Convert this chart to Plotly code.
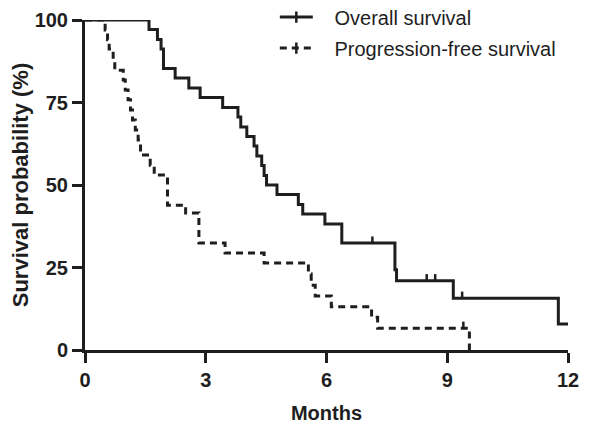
import plotly.graph_objects as go

# Overall survival (Kaplan-Meier step points: time in months, survival %)
os_time = [0, 1.59, 1.80, 1.89, 1.95, 2.24, 2.58, 2.86, 3.42, 3.80, 3.87, 4.02, 4.20, 4.27,
           4.39, 4.45, 4.51, 4.77, 5.30, 5.41, 5.96, 6.38, 7.70, 7.74, 9.15, 11.76, 12.0]
os_surv = [100, 97.1, 94.1, 91.2, 85.3, 82.4, 79.4, 76.5, 73.5, 70.6, 67.6, 64.7, 61.8, 58.8,
           55.9, 52.9, 50.0, 47.1, 44.1, 41.2, 38.2, 32.4, 24.3, 21.0, 15.7, 7.9, 7.9]
os_cens_time = [1.06, 7.14, 8.49, 8.70, 9.37]
os_cens_surv = [100, 32.4, 21.0, 21.0, 15.7]

# Progression-free survival
pfs_time = [0, 0.50, 0.56, 0.60, 0.70, 0.74, 0.95, 1.00, 1.07, 1.13, 1.18, 1.25, 1.32, 1.38,
            1.62, 1.72, 2.05, 2.50, 2.83, 3.48, 4.45, 5.55, 5.62, 5.72, 6.12, 7.12, 7.27, 9.55]
pfs_surv = [100, 97.0, 94.0, 91.2, 88.0, 84.8, 81.8, 78.8, 75.8, 72.7, 69.7, 66.7, 63.6, 59.1,
            56.0, 53.0, 43.9, 41.5, 32.4, 29.4, 26.4, 23.0, 19.6, 16.4, 13.1, 9.9, 6.6, 0]
pfs_cens_time = [9.40]
pfs_cens_surv = [6.6]

x_ticks = [0, 3, 6, 9, 12]
y_ticks = [0, 25, 50, 75, 100]
series_names = ["Overall survival", "Progression-free survival"]

INK = "#1e1e1e"
FONT = "Liberation Sans, Arial, sans-serif"
LW = 3
DASH = "7px,5px"
TICK_H = 2.0
NB = "\u00a0"

fig = go.Figure()

fig.add_trace(go.Scatter(x=os_time, y=os_surv, mode="lines", line_shape="hv",
                         line=dict(color=INK, width=LW), cliponaxis=False, showlegend=False))
fig.add_trace(go.Scatter(x=pfs_time, y=pfs_surv, mode="lines", line_shape="hv",
                         line=dict(color=INK, width=LW, dash=DASH), cliponaxis=False, showlegend=False))

for ct, cs in [(os_cens_time, os_cens_surv), (pfs_cens_time, pfs_cens_surv)]:
    fig.add_trace(go.Scatter(x=ct, y=cs, mode="markers",
                             marker=dict(size=1, color="rgba(0,0,0,0)"),
                             error_y=dict(type="data", symmetric=False,
                                          array=[TICK_H] * len(ct), arrayminus=[0] * len(ct),
                                          width=0, thickness=2.5, color=INK),
                             cliponaxis=False, showlegend=False))

# legend entries
for i, (nm, dash) in enumerate(zip(series_names, ["solid", DASH])):
    fig.add_trace(go.Scatter(x=[None], y=[None], mode="lines+markers", name=NB * 3 + nm,
                             legendgroup=f"g{i}",
                             line=dict(color=INK, width=LW, dash=dash),
                             marker=dict(symbol="line-ns-open", size=8,
                                         line=dict(color=INK, width=2.5))))

# the page adds an 8px body margin, so the figure is sized to fit the window
fig.update_layout(
    width=585, height=418,
    margin=dict(l=77, r=25, t=12, b=76, autoexpand=False),
    paper_bgcolor="white", plot_bgcolor="white",
    font=dict(family=FONT, color=INK),
    showlegend=True,
    legend=dict(x=0.393, y=1.068, xanchor="left", yanchor="top",
                font=dict(size=20, family=FONT, color=INK),
                traceorder="grouped", tracegroupgap=2,
                bgcolor="rgba(0,0,0,0)", itemwidth=33),
    xaxis=dict(range=[0, 12], tickvals=x_ticks, ticktext=[str(v) for v in x_ticks],
               showgrid=False, zeroline=False, showline=True, linecolor=INK, linewidth=LW,
               ticks="outside", ticklen=10, tickwidth=LW, tickcolor=INK,
               tickfont=dict(size=20, family=FONT, color=INK, weight="bold"),
               title=dict(text="<b>Months</b>", font=dict(size=20, family=FONT, color=INK),
                          standoff=16)),
    yaxis=dict(range=[0, 100], tickvals=y_ticks, ticktext=[str(v) for v in y_ticks],
               showgrid=False, zeroline=False, showline=True, linecolor=INK, linewidth=LW,
               ticks="outside", ticklen=10, tickwidth=LW, tickcolor=INK,
               tickfont=dict(size=20, family=FONT, color=INK, weight="bold"),
               title=dict(text="<b>Survival probability (%)</b>",
                          font=dict(size=22, family=FONT, color=INK), standoff=3)),
)

fig.write_html("out.html")
